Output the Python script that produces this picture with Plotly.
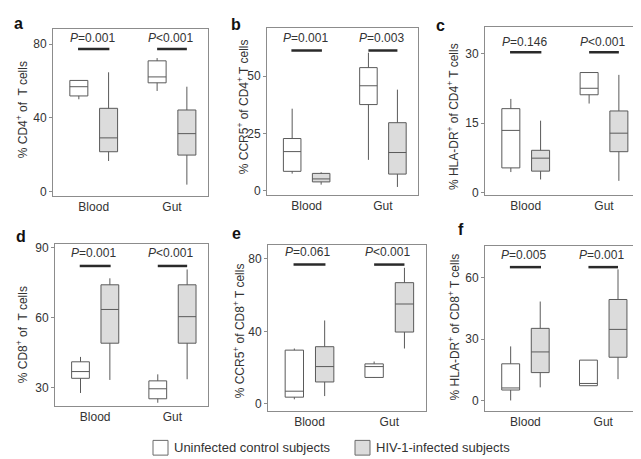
import plotly.graph_objects as go

# ---------------- data ----------------
CATEGORIES = ["Blood", "Gut"]
PANELS = ["a", "b", "c", "d", "e", "f"]
Y_TITLES = [
    "% CD4<sup>+</sup> of  T cells",
    "% CCR5<sup>+</sup> of CD4<sup>+</sup> T cells",
    "% HLA-DR<sup>+</sup> of CD4<sup>+</sup> T cells",
    "% CD8<sup>+</sup> of  T cells",
    "% CCR5<sup>+</sup> of CD8<sup>+</sup> T cells",
    "% HLA-DR<sup>+</sup> of CD8<sup>+</sup> T cells",
]
Y_TICKS = [[0, 40, 80], [0, 25, 50], [0, 15, 30], [30, 60, 90], [0, 40, 80], [0, 30, 60]]

# each row: [lower whisker, Q1, median, Q3, upper whisker] for Blood, Gut
A_UNINF = [[50.1, 51.9, 56.9, 60.3, 60.3], [54.6, 59.0, 62.2, 70.9, 72.4]]
A_HIV = [[16.7, 21.7, 29.2, 45.2, 64.7], [3.9, 19.9, 31.5, 44.3, 56.9]]
B_UNINF = [[7.5, 8.5, 17.1, 22.8, 35.8], [13.5, 37.6, 45.8, 53.7, 60.2]]
B_HIV = [[2.7, 3.9, 5.2, 7.6, 8.1], [1.7, 7.3, 16.7, 29.7, 44.1]]
C_UNINF = [[4.4, 5.3, 13.4, 18.1, 20.2], [19.2, 21.1, 22.5, 25.9, 25.9]]
C_HIV = [[2.8, 4.6, 7.4, 9.1, 15.5], [2.5, 8.8, 12.8, 17.6, 25.4]]
D_UNINF = [[27.6, 33.9, 36.8, 41.0, 43.1], [23.4, 25.1, 29.4, 32.8, 35.6]]
D_HIV = [[33.2, 49.0, 63.5, 74.1, 76.9], [33.5, 49.0, 60.4, 74.1, 80.7]]
E_UNINF = [[2.4, 3.6, 6.9, 29.6, 30.5], [14.2, 14.5, 20.5, 22.0, 23.3]]
E_HIV = [[4.2, 12.0, 20.5, 31.5, 46.0], [30.5, 39.6, 55.1, 66.9, 75.1]]
F_UNINF = [[0.0, 5.1, 6.1, 17.9, 26.4], [7.2, 7.2, 8.3, 19.7, 19.7]]
F_HIV = [[6.4, 13.6, 23.7, 35.2, 48.3], [10.4, 21.1, 34.7, 49.3, 64.0]]

UNINF = [A_UNINF, B_UNINF, C_UNINF, D_UNINF, E_UNINF, F_UNINF]
HIV = [A_HIV, B_HIV, C_HIV, D_HIV, E_HIV, F_HIV]

P_BLOOD = ["=0.001", "=0.001", "=0.146", "=0.001", "=0.061", "=0.005"]
P_GUT = ["<0.001", "=0.003", "<0.001", "<0.001", "<0.001", "=0.001"]

# ---------------- layout geometry (pixels) ----------------
W, H = 641, 459
X_DOM = [(45, 200), (259, 410), (477, 632), (47, 200), (260, 418), (477, 631)]
Y_DOM = [(18, 188), (17, 187), (16, 187), (237, 402), (238, 407), (239, 407)]
Y_RANGE = [(-2.1, 88.3), (-1.7, 71.1), (-0.5, 35.8), (22, 91.7), (-4, 87.8), (-5.1, 75.5)]
P_LINE_Y = [77.3, 61.2, 30.3, 82.2, 76.9, 65.1]
P_TEXT_Y = [83.3, 66.6, 32.6, 87.6, 83.6, 70.9]
LETTER_POS = [(10, 13), (228, 14), (432, 15), (13, 230), (228, 226), (453, 222)]
TITLE_POS = [(14, 101), (235, 98), (445, 108), (14, 330), (231, 326), (446, 322)]

FONT = "Liberation Sans, Arial, sans-serif"
TXT = "#333333"
OFF = 0.19
BW = 0.23
X_RANGE = [0.48, 2.46]


def px(x):
    return x / W


def py(y):
    return 1 - y / H


fig = go.Figure()
shapes = []
annotations = []

for i in range(6):
    n = "" if i == 0 else str(i + 1)
    xa, ya = "x" + n, "y" + n
    for group, stats, fill, dx in (("Uninfected", UNINF[i], "#ffffff", -OFF),
                                    ("HIV", HIV[i], "#dcdcdc", OFF)):
        fig.add_trace(go.Box(
            x=[k + 1 + dx for k in range(len(CATEGORIES))],
            lowerfence=[s[0] for s in stats],
            q1=[s[1] for s in stats],
            median=[s[2] for s in stats],
            q3=[s[3] for s in stats],
            upperfence=[s[4] for s in stats],
            width=BW,
            whiskerwidth=0,
            fillcolor=fill,
            line=dict(color="#5a5a5a", width=1),
            showlegend=False,
            hoverinfo="skip",
            xaxis=xa, yaxis=ya,
        ))

    x0, x1 = X_DOM[i]
    y0, y1 = Y_DOM[i]
    fig.layout["xaxis" + n] = dict(
        domain=[px(x0), px(x1)], range=X_RANGE, anchor=ya,
        tickvals=[1, 2], ticktext=CATEGORIES, ticks="",
        showline=True, mirror=True, linecolor="#8c8c8c", linewidth=1,
        showgrid=False, zeroline=False,
        tickfont=dict(family=FONT, size=12, color=TXT),
    )
    fig.layout["yaxis" + n] = dict(
        domain=[py(y1), py(y0)], range=list(Y_RANGE[i]), anchor=xa,
        tickvals=Y_TICKS[i], ticks="outside", ticklen=3, tickcolor="#8c8c8c",
        showline=True, mirror=True, linecolor="#8c8c8c", linewidth=1,
        showgrid=False, zeroline=False,
        tickfont=dict(family=FONT, size=12, color=TXT),
    )

    # P-value bars and labels
    for c, (lx0, lx1), ptxt in ((1, (0.80, 1.20), P_BLOOD[i]), (2, (1.81, 2.19), P_GUT[i])):
        shapes.append(dict(type="line", xref=xa, yref=ya, x0=lx0, x1=lx1,
                           y0=P_LINE_Y[i], y1=P_LINE_Y[i],
                           line=dict(color="#2a2a2a", width=2.5)))
        annotations.append(dict(xref=xa, yref=ya, x=c - 0.02, y=P_TEXT_Y[i],
                                text="<i>P</i>" + ptxt, showarrow=False,
                                xanchor="center", yanchor="middle",
                                font=dict(family=FONT, size=12, color=TXT)))

    lx, ly = LETTER_POS[i]
    annotations.append(dict(xref="paper", yref="paper", x=px(lx), y=py(ly),
                            text="<b>" + PANELS[i] + "</b>", showarrow=False,
                            xanchor="center", yanchor="middle",
                            font=dict(family=FONT, size=16, color="#111111")))
    tx, ty = TITLE_POS[i]
    annotations.append(dict(xref="paper", yref="paper", x=px(tx), y=py(ty),
                            text=Y_TITLES[i], showarrow=False, textangle=-90,
                            xanchor="center", yanchor="middle",
                            font=dict(family=FONT, size=12, color=TXT)))

# legend drawn manually
LEGEND_LABELS = ["Uninfected control subjects", "HIV-1-infected subjects"]
LEGEND_FILLS = ["#ffffff", "#dcdcdc"]
LEGEND_X = [145, 347]
for lab, fill, lx in zip(LEGEND_LABELS, LEGEND_FILLS, LEGEND_X):
    shapes.append(dict(type="rect", xref="paper", yref="paper",
                       x0=px(lx), x1=px(lx + 15), y0=py(452), y1=py(437),
                       fillcolor=fill, line=dict(color="#6a6a6a", width=1)))
    annotations.append(dict(xref="paper", yref="paper", x=px(lx + 19), y=py(444.5),
                            text=lab, showarrow=False, xanchor="left", yanchor="middle",
                            font=dict(family=FONT, size=13, color=TXT)))

fig.update_layout(
    width=W, height=H,
    margin=dict(l=0, r=0, t=0, b=0),
    paper_bgcolor="white", plot_bgcolor="white",
    shapes=shapes, annotations=annotations,
    showlegend=False,
)

fig.write_html("out.html")
